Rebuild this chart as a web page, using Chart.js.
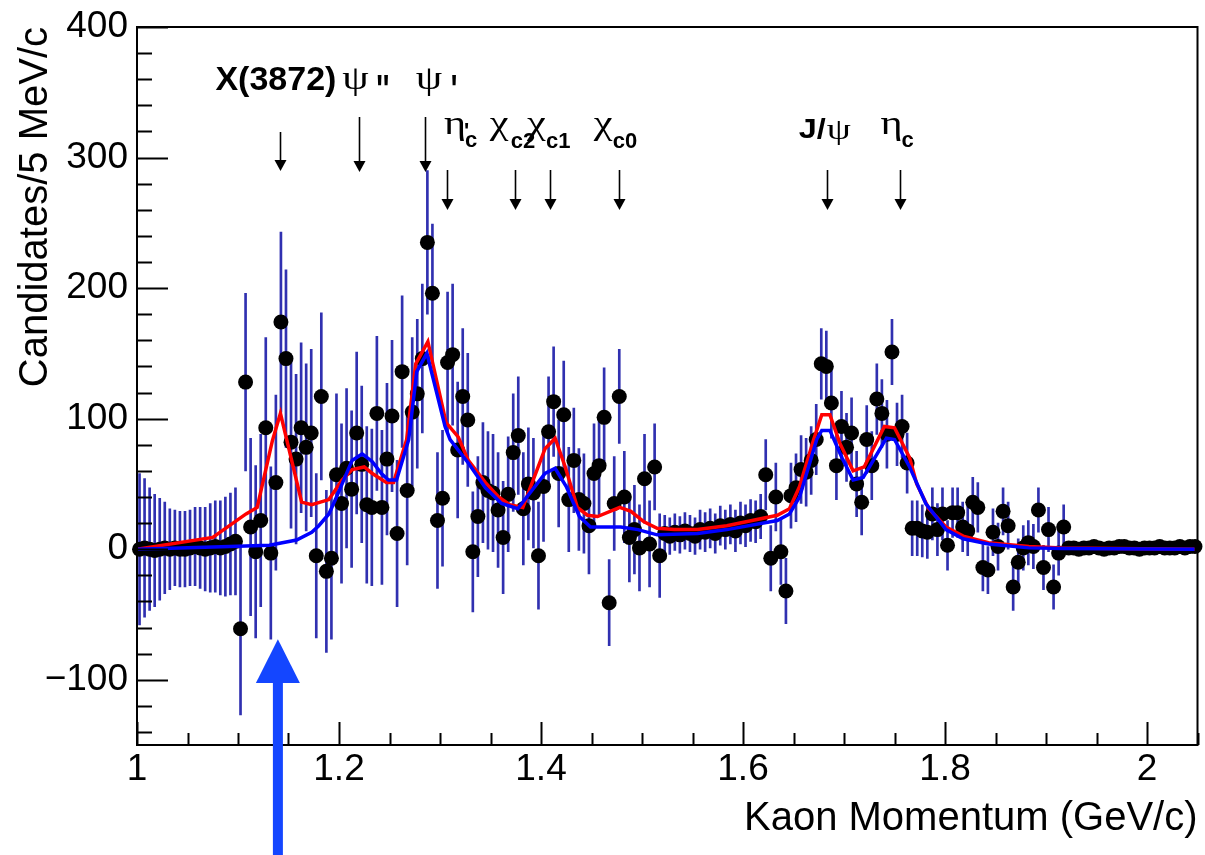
<!DOCTYPE html>
<html><head><meta charset="utf-8">
<script src="https://cdn.jsdelivr.net/npm/chart.js@4.4.1/dist/chart.umd.min.js"></script>
<style>html,body{margin:0;padding:0;background:#fff}canvas{display:block}</style>
</head><body>
<canvas id="c" width="1205" height="855"></canvas>
<script>
// ---- data (5 MeV/c bins from 1.000 to 2.050 GeV/c) ----
const binLow = 1.0, binWidth = 0.005;
const counts = [
 0,1,0,-1,0,1,0,1,0,0,1,2,1,0,1,2,1,2,4,6,
 -61,128,17,-2,22,93,-3,51,174,146,82,69,93,78,89,-5,117,-17,-7,
 57,35,62,46,89,65,34,32,104,32,69,102,12,136,45,105,119,146,235,196,22,39,143,149,76,117,99,
 -2,25,51,45,43,30,9,42,74,87,31,50,43,-5,48,90,113,58,103,38,68,38,35,18,58,64,101,-41,35,117,40,9,15,1,54,4,63,-5,
 12,10,13,11,14,12,10,15,13,16,12,18,15,19,14,20,18,22,21,25,
 57,-7,40,-2,-32,41,47,61,59,68,84,142,140,112,64,94,78,89,50,36,84,64,115,104,88,151,88,94,66,
 16,16,14,13,27,15,27,3,28,28,17,14,36,32,-14,-16,13,2,29,18,-29,-10,1,5,2,30,-14,15,-29,-3,17,
 1,1,0,1,1,2,1,0,1,1,2,2,1,1,0,1,1,1,2,1,1,1,2,1,2,2
];
const errors = [
 58,53,47,43,39,35,31,29,29,29,29,30,31,32,34,35,36,38,39,41,
 66,68,68,66,66,69,66,67,69,68,66,65,65,64,64,63,64,62,62,
 62,61,61,60,62,60,60,60,59,59,58,58,56,58,57,57,57,57,55,53,52,52,54,54,52,52,51,
 46,46,46,45,45,44,43,44,45,45,43,43,42,41,42,42,42,41,41,40,40,39,38,37,38,38,38,33,36,36,35,34,34,33,34,33,33,32,
 14,14,14,14,14,14,14,15,15,15,15,15,15,15,16,16,16,16,16,17,
 27,25,26,25,25,25,26,26,26,26,27,27,27,27,26,27,26,27,25,25,26,26,27,26,26,25,24,24,23,
 21,21,20,20,20,20,20,19,19,19,19,19,19,19,18,18,18,18,18,18,18,18,17,17,17,17,17,17,17,17,17,
 3,3,3,3,3,3,3,3,3,3,3,3,3,3,3,3,3,3,3,3,3,3,3,3,3,3
];
const momentum = counts.map((_, i) => +(binLow + binWidth * (i + 0.5)).toFixed(4));

const redMomentum = [1.000,1.075,1.108,1.119,1.134,1.142,1.163,1.173,1.190,1.203,1.213,1.225,1.233,1.247,1.254,1.267,1.276,1.288,1.306,1.318,1.328,1.345,1.358,1.369,1.382,1.404,1.414,1.424,1.436,1.446,1.456,1.478,1.489,1.502,1.515,1.532,1.555,1.584,1.634,1.646,1.656,1.670,1.678,1.686,1.696,1.709,1.720,1.740,1.750,1.765,1.772,1.784,1.801,1.818,1.843,1.883,1.916,2.047];
const redFit = [0,9,27,32,83,104,36,34,38,53,61,63,58,51,51,84,142,159,97,86,68,51,40,34,32,77,85,63,32,26,25,32,29,21,16,15,15,18,26,31,48,84,103,103,81,60,63,94,93,70,50,31,17,10,5,2,1,0];
const blueMomentum = [1.000,1.092,1.131,1.158,1.173,1.180,1.190,1.197,1.213,1.223,1.233,1.242,1.249,1.257,1.269,1.277,1.287,1.305,1.310,1.328,1.345,1.361,1.377,1.404,1.414,1.425,1.438,1.449,1.479,1.496,1.515,1.555,1.584,1.634,1.646,1.656,1.673,1.678,1.686,1.698,1.709,1.719,1.742,1.750,1.765,1.781,1.801,1.818,1.843,1.883,1.916,2.047];
const blueFit = [0,2,3,7,13,18,27,39,68,73,67,58,53,53,84,136,150,94,84,66,47,35,31,58,62,48,25,17,17,15,11,12,15,22,27,40,84,91,91,70,53,55,85,84,63,35,15,8,4,1,0.5,0];

const xTicks = [1, 1.2, 1.4, 1.6, 1.8, 2];
const xTickLabels = ['1', '1.2', '1.4', '1.6', '1.8', '2'];
const yTicks = [400, 300, 200, 100, 0, -100];
const yTickLabels = ['400', '300', '200', '100', '0', '\u2212100'];

const markerNames = ['X(3872)', "\u03c8 ''", "\u03c8 '", "\u03b7'c", '\u03c7c2', '\u03c7c1', '\u03c7c0', 'J/\u03c8', '\u03b7c'];
const markerMomenta = [1.142, 1.220, 1.285, 1.307, 1.374, 1.409, 1.477, 1.683, 1.755];
const bigArrowMomentum = 1.1395;

// ---- styling ----
const SANS = "'Liberation Sans', Arial, Helvetica, sans-serif";
const SERIF = "'Liberation Serif', 'Times New Roman', serif";
const G = `33px ${SERIF}`, SUB = `bold 22px ${SANS}`, GS = 1.28, Q = `bold 40px ${SANS}`;
// label layout: arrow top/bottom (px from plot top), parts with dx from arrow, y from plot top, optional x stretch
const markerLayout = [
 {a0:105, a1:144, parts:[{t:'X(3872)', f:`bold 34px ${SANS}`, dx:-65, y:63}]},
 {a0:90, a1:145, parts:[{t:'\u03c8', f:G, dx:-17, y:62, sx:GS}, {t:"''", f:Q, dx:17, y:76, sx:0.7}]},
 {a0:90, a1:145, parts:[{t:'\u03c8', f:G, dx:-9, y:62, sx:GS}, {t:"'", f:Q, dx:26, y:76, sx:0.7}]},
 {a0:143, a1:183, parts:[{t:'\u03b7', f:G, dx:-3, y:107, sx:GS}, {t:"'", f:SUB, dx:17, y:111}, {t:'c', f:SUB, dx:18, y:120}]},
 {a0:143, a1:183, parts:[{t:'\u03c7', f:G, dx:-25, y:107, sx:GS}, {t:'c2', f:SUB, dx:-4, y:121}]},
 {a0:143, a1:183, parts:[{t:'\u03c7', f:G, dx:-23, y:107, sx:GS}, {t:'c1', f:SUB, dx:-4, y:121}]},
 {a0:143, a1:183, parts:[{t:'\u03c7', f:G, dx:-25, y:107, sx:GS}, {t:'c0', f:SUB, dx:-6, y:121}]},
 {a0:143, a1:183, parts:[{t:'J/', f:`bold 27px ${SANS}`, dx:-28, y:111, sx:1.2}, {t:'\u03c8', f:`30px ${SERIF}`, dx:0, y:112, sx:GS}]},
 {a0:143, a1:183, parts:[{t:'\u03b7', f:G, dx:-19, y:107, sx:GS}, {t:'c', f:SUB, dx:2, y:120}]}
];

function downArrow(ctx, x, y0, y1) {
  ctx.beginPath(); ctx.moveTo(x, y0); ctx.lineTo(x, y1 - 10); ctx.stroke();
  ctx.beginPath(); ctx.moveTo(x - 6, y1 - 11); ctx.lineTo(x + 6, y1 - 11); ctx.lineTo(x, y1); ctx.closePath(); ctx.fill();
}

const rootStyle = {
  id: 'rootStyle',
  afterDatasetsDraw(chart) {
    const {ctx, chartArea: a, scales: {x, y}} = chart;
    ctx.save();
    ctx.strokeStyle = '#000'; ctx.fillStyle = '#000'; ctx.lineWidth = 2;
    // ticks (inside frame, ROOT style)
    ctx.beginPath();
    for (let k = -7; k <= 20; k++) {
      const v = k * 20, py = Math.round(y.getPixelForValue(v)) + 0.5;
      const len = (v % 100 === 0) ? 31 : 15;
      ctx.moveTo(a.left, py); ctx.lineTo(a.left + len, py);
    }
    for (let k = 0; k <= 21; k++) {
      const v = 1 + k * 0.05, px = Math.round(x.getPixelForValue(v)) + 0.5;
      const len = (k % 4 === 0) ? 23 : 12;
      ctx.moveTo(px, a.bottom); ctx.lineTo(px, a.bottom - len);
    }
    ctx.stroke();
    // frame
    ctx.strokeRect(a.left, a.top, a.right - a.left, a.bottom - a.top);
    // markers
    ctx.lineWidth = 1.6; ctx.textBaseline = 'alphabetic'; ctx.textAlign = 'left';
    markerNames.forEach((name, i) => {
      const L = markerLayout[i], px = x.getPixelForValue(markerMomenta[i]);
      downArrow(ctx, Math.round(px) + 0.5, a.top + L.a0, a.top + L.a1);
      L.parts.forEach(p => {
        ctx.font = p.f;
        ctx.save();
        ctx.translate(px + p.dx, a.top + p.y);
        ctx.scale(p.sx || 1, 1);
        ctx.fillText(p.t, 0, 0);
        ctx.restore();
      });
    });
    ctx.restore();
  },
  afterDraw(chart) {
    const {ctx, scales: {x, y}} = chart;
    const px = x.getPixelForValue(bigArrowMomentum);
    const tip = y.getPixelForValue(-69), base = y.getPixelForValue(-102.5);
    ctx.save();
    ctx.fillStyle = '#1446ff';
    ctx.fillRect(px - 5, base - 1, 10, chart.height - base + 1);
    ctx.beginPath(); ctx.moveTo(px - 22, base); ctx.lineTo(px + 22, base); ctx.lineTo(px, tip); ctx.closePath(); ctx.fill();
    ctx.restore();
  }
};

new Chart(document.getElementById('c'), {
  type: 'scatter',
  data: {
    datasets: [
      { type: 'line', label: 'fit (blue)', data: blueMomentum.map((m, i) => ({x: m, y: blueFit[i]})),
        borderColor: '#0000ff', borderWidth: 3.5, pointRadius: 0, tension: 0, fill: false, order: 0 },
      { type: 'line', label: 'fit (red)', data: redMomentum.map((m, i) => ({x: m, y: redFit[i]})),
        borderColor: '#ff0000', borderWidth: 3.5, pointRadius: 0, tension: 0, fill: false, order: 1 },
      { type: 'scatter', label: 'data', data: momentum.map((m, i) => ({x: m, y: counts[i]})),
        backgroundColor: '#000', borderColor: '#000', pointRadius: 7.5, borderWidth: 0, clip: false, order: 2 },
      { type: 'bar', label: 'errors', data: momentum.map((m, i) => ({x: m, y: [counts[i] - errors[i], counts[i] + errors[i]]})),
        backgroundColor: '#3030b0', borderWidth: 0, barThickness: 2, grouped: false, order: 3 }
    ]
  },
  options: {
    responsive: false, animation: false, events: [],
    layout: {padding: {top: 27, right: 2, left: 0, bottom: 0}},
    plugins: {legend: {display: false}, tooltip: {enabled: false}},
    scales: {
      x: {
        type: 'linear', min: 1, max: 2.05, offset: false,
        grid: {display: false, drawTicks: false, offset: false}, border: {display: false},
        afterBuildTicks: s => { s.ticks = xTicks.map(v => ({value: v})); },
        afterFit: s => { s.height = 110; s.paddingLeft = 0; s.paddingRight = 0; },
        ticks: {padding: 3, color: '#000', font: {family: SANS, size: 37}, maxRotation: 0, autoSkip: false,
          callback: v => { const k = xTicks.findIndex(t => Math.abs(t - v) < 1e-6); return k >= 0 ? xTickLabels[k] : ''; }},
        title: {display: true, text: 'Kaon Momentum (GeV/c)', align: 'end', color: '#000',
          font: {family: SANS, size: 40}, padding: {top: 0, bottom: 12}}
      },
      y: {
        type: 'linear', min: -150, max: 400,
        grid: {display: false, drawTicks: false}, border: {display: false},
        afterBuildTicks: s => { s.ticks = yTicks.map(v => ({value: v})); },
        afterFit: s => { s.width = 137; s.paddingTop = 0; s.paddingBottom = 0; },
        ticks: {padding: 9, color: '#000', font: {family: SANS, size: 37}, autoSkip: false,
          callback: v => { const k = yTicks.indexOf(Math.round(v)); return k >= 0 ? yTickLabels[k] : ''; }},
        title: {display: true, text: 'Candidates/5 MeV/c', align: 'end', color: '#000',
          font: {family: SANS, size: 40}, padding: {top: 12, bottom: 0}}
      }
    }
  },
  plugins: [rootStyle]
});
</script>
</body></html>
